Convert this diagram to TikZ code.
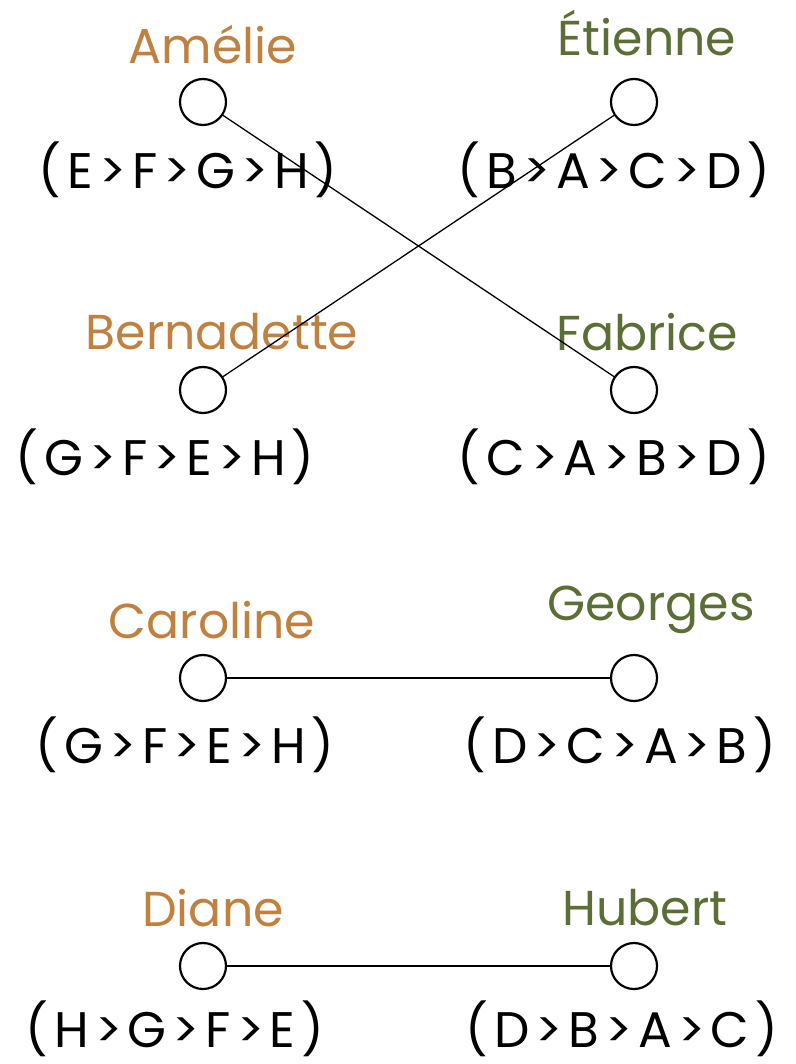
\documentclass[tikz,border=0pt]{standalone}
\usepackage{fontspec}
\setmainfont{Poppins}
\definecolor{womancol}{HTML}{C0803F}
\definecolor{mancol}{HTML}{5A6E35}

\tikzset{
  agent/.style={circle,draw,line width=2.2pt,minimum size=46pt,inner sep=0pt},
  agentname/.style={font=\fontsize{49}{49}\selectfont},
  agentpref/.style={font=\fontsize{50}{50}\selectfont\addfontfeatures{LetterSpace=12}}
}

\begin{document}
\begin{tikzpicture}[x=1pt,y=-1pt]
\useasboundingbox (0,0) rectangle (795,1064);
% left side
\node[agent] (a) at (203,102) {};
\node[agent] (b) at (203,390) {};
\node[agent] (c) at (203,678) {};
\node[agent] (d) at (203,966) {};
% right side
\node[agent] (e) at (634,102) {};
\node[agent] (f) at (634,390) {};
\node[agent] (g) at (634,678) {};
\node[agent] (h) at (634,966) {};
% names
\node[agentname,womancol] (na) at (213,45) {Amélie};
\node[agentname,womancol] (nb) at (222,332) {Bernadette};
\node[agentname,womancol] (nc) at (212,620) {Caroline};
\node[agentname,womancol] (nd) at (213,908) {Diane};
\node[agentname,mancol] (ne) at (647,33) {Étienne};
\node[agentname,mancol] (nf) at (647,332) {Fabrice};
\node[agentname,mancol] (ng) at (651,610) {Georges};
\node[agentname,mancol] (nh) at (645,908) {Hubert};
% preferences
\node[agentpref] (pa) at (188,170) {(E>F>G>H)};
\node[agentpref] (pb) at (165,457) {(G>F>E>H)};
\node[agentpref] (pc) at (185,745) {(G>F>E>H)};
\node[agentpref] (pd) at (175,1029) {(H>G>F>E)};
\node[agentpref] (pe) at (614,170) {(B>A>C>D)};
\node[agentpref] (pf) at (614,457) {(C>A>B>D)};
\node[agentpref] (pg) at (620,745) {(D>C>A>B)};
\node[agentpref] (ph) at (622,1029) {(D>B>A>C)};
% matching
\draw[line width=1.3pt] (a) -- (f);
\draw[line width=1.3pt] (b) -- (e);
\draw[line width=2.2pt] (c) -- (g);
\draw[line width=2.2pt] (d) -- (h);
\end{tikzpicture}
\end{document}
